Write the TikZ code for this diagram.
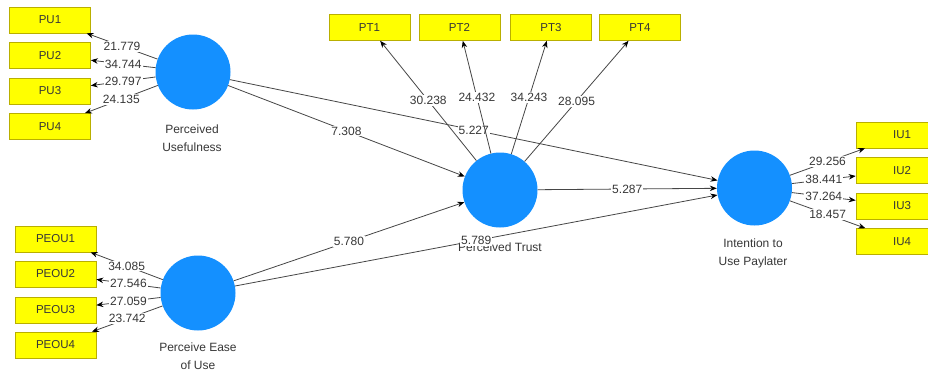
\documentclass[tikz,border=0pt]{standalone}
\usepackage{fontspec}
\setmainfont{Liberation Sans}
\usetikzlibrary{arrows.meta}
\definecolor{lvblue}{RGB}{20,144,255}
\definecolor{boxyellow}{RGB}{255,255,0}
\definecolor{boxedge}{RGB}{185,175,0}
\definecolor{txt}{RGB}{55,55,55}
\definecolor{ln}{RGB}{70,70,70}
\begin{document}
\begin{tikzpicture}[x=1pt,y=-1pt,
  latent/.style={circle,fill=lvblue,draw=none,minimum size=75pt,inner sep=0pt},
  ind/.style={rectangle,fill=boxyellow,draw=boxedge,line width=0.6pt,minimum width=81pt,minimum height=26pt,inner sep=0pt,font=\fontsize{11.5}{13}\selectfont,text=txt},
  lvlabel/.style={align=center,font=\fontsize{12}{18}\selectfont,text=txt},
  conn/.style={draw=ln,line width=0.8pt,-{Stealth[length=7pt,width=5.5pt,color=black]}},
  wt/.style={fill=white,inner sep=1.2pt,font=\fontsize{12}{14}\selectfont,text=txt}
]
\useasboundingbox (0,0) rectangle (928,370);
\clip (0,0) rectangle (928,370);
\fill[white] (0,0) rectangle (928,370);

% latent variables
\node[latent] (PU) at (193,72) {};
\node[latent] (PEOU) at (198,293) {};
\node[latent] (PT) at (500,190) {};
\node[latent] (IU) at (754.5,188) {};

\node[lvlabel] (PUl) at (192,138) {Perceived\\Usefulness};
\node[lvlabel] (PEOUl) at (198,356.5) {Perceive Ease\\of Use};
\node[lvlabel] (PTl) at (500,247) {Perceived Trust};
\node[lvlabel] (IUl) at (753,253) {Intention to\\Use Paylater};

% indicators
\node[ind] (PU1) at (50,20) {PU1};
\node[ind] (PU2) at (50,55.5) {PU2};
\node[ind] (PU3) at (50,91) {PU3};
\node[ind] (PU4) at (50,126.5) {PU4};

\node[ind] (PEOU1) at (55.5,239) {PEOU1};
\node[ind] (PEOU2) at (55.5,274) {PEOU2};
\node[ind] (PEOU3) at (55.5,310) {PEOU3};
\node[ind] (PEOU4) at (55.5,345) {PEOU4};

\node[ind] (PT1) at (369.5,27.5) {PT1};
\node[ind] (PT2) at (459.5,27.5) {PT2};
\node[ind] (PT3) at (551,27.5) {PT3};
\node[ind] (PT4) at (640,27.5) {PT4};

\node[ind,minimum width=92pt] (IU1) at (902,135) {IU1};
\node[ind,minimum width=92pt] (IU2) at (902,170.5) {IU2};
\node[ind,minimum width=92pt] (IU3) at (902,206) {IU3};
\node[ind,minimum width=92pt] (IU4) at (902,241.5) {IU4};

% structural paths
\draw[conn] (PU) -- node[wt] {7.308} (PT);
\draw[conn] (PU) -- node[wt] {5.227} (IU);
\draw[conn] (PEOU) -- node[wt] {5.780} (PT);
\draw[conn] (PEOU) -- node[wt] {5.789} (IU);
\draw[conn] (PT) -- node[wt] {5.287} (IU);

% outer loadings
\draw[conn] (PU) -- node[wt] {21.779} (PU1);
\draw[conn] (PU) -- node[wt] {34.744} (PU2);
\draw[conn] (PU) -- node[wt] {29.797} (PU3);
\draw[conn] (PU) -- node[wt] {24.135} (PU4);

\draw[conn] (PEOU) -- node[wt] {34.085} (PEOU1);
\draw[conn] (PEOU) -- node[wt] {27.546} (PEOU2);
\draw[conn] (PEOU) -- node[wt] {27.059} (PEOU3);
\draw[conn] (PEOU) -- node[wt] {23.742} (PEOU4);

\draw[conn] (PT) -- node[wt] {30.238} (PT1);
\draw[conn] (PT) -- node[wt] {24.432} (PT2);
\draw[conn] (PT) -- node[wt] {34.243} (PT3);
\draw[conn] (PT) -- node[wt] {28.095} (PT4);

\draw[conn] (IU) -- node[wt] {29.256} (IU1);
\draw[conn] (IU) -- node[wt] {38.441} (IU2);
\draw[conn] (IU) -- node[wt] {37.264} (IU3);
\draw[conn] (IU) -- node[wt] {18.457} (IU4);
\end{tikzpicture}
\end{document}
